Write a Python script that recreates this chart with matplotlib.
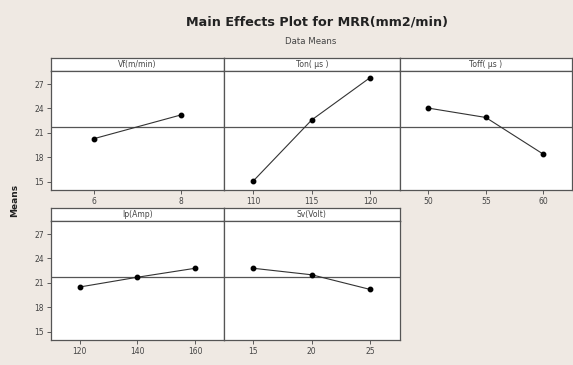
import matplotlib.pyplot as plt

# main effect means for MRR (mm2/min) at each factor level
vf_levels = [6, 8]
vf_means = [20.3, 23.2]

ton_levels = [110, 115, 120]
ton_means = [15.1, 22.6, 27.8]

toff_levels = [50, 55, 60]
toff_means = [24.05, 22.9, 18.4]

ip_levels = [120, 140, 160]
ip_means = [20.5, 21.7, 22.8]

sv_levels = [15, 20, 25]
sv_means = [22.8, 22.0, 20.2]

grand_mean = 21.7
y_ticks = [15, 18, 21, 24, 27]

factors = [
    ("Vf(m/min)", vf_levels, vf_means),
    ("Ton( \u00b5s )", ton_levels, ton_means),
    ("Toff( \u00b5s )", toff_levels, toff_means),
    ("Ip(Amp)", ip_levels, ip_means),
    ("Sv(Volt)", sv_levels, sv_means),
]

W, H = 573, 365
BG = "#efe9e3"
EDGE = "#555555"
TXT = "#444444"

fig = plt.figure(figsize=(W / 100, H / 100), dpi=100)
fig.patch.set_facecolor(BG)


def px_axes(x0, y0, x1, y1):
    # axes placed by pixel box (top-left origin)
    return fig.add_axes([x0 / W, 1 - y1 / H, (x1 - x0) / W, (y1 - y0) / H])


# panel boxes: (left, right, strip top, strip bottom, plot bottom)
col_x = [(50.7, 224), (224, 399.5), (399.5, 572)]
rows = [(57.7, 71, 190), (207.7, 221, 340)]
boxes = [
    (col_x[0], rows[0]), (col_x[1], rows[0]), (col_x[2], rows[0]),
    (col_x[0], rows[1]), (col_x[1], rows[1]),
]

for i, ((name, levels, means), ((x0, x1), (st, sb, pb))) in enumerate(zip(factors, boxes)):
    strip = px_axes(x0, st, x1, sb)
    strip.set_xticks([])
    strip.set_yticks([])
    strip.set_facecolor("white")
    for s in strip.spines.values():
        s.set_color(EDGE)
        s.set_linewidth(0.9)
    strip.text(0.5, 0.5, name, ha="center", va="center", fontsize=5.5,
               color=TXT, transform=strip.transAxes)

    ax = px_axes(x0, sb, x1, pb)
    ax.set_facecolor("white")
    pos = list(range(len(levels)))
    ax.axhline(grand_mean, color=EDGE, lw=0.9, zorder=1)
    ax.plot(pos, means, color="#333333", lw=0.8, marker="o", ms=3.2,
            mfc="black", mec="black", zorder=3)
    ax.set_xlim(-0.5, len(levels) - 0.5)
    ax.set_ylim(14.0, 28.6)
    ax.set_xticks(pos)
    ax.set_xticklabels([str(v) for v in levels])
    ax.set_yticks(y_ticks)
    ax.tick_params(axis="both", labelsize=5.5, colors=TXT, length=3, width=0.6, pad=2)
    if i not in (0, 3):
        ax.tick_params(axis="y", left=False, labelleft=False)
    for s in ax.spines.values():
        s.set_color(EDGE)
        s.set_linewidth(0.9)

fig.text(317 / W, 1 - 22 / H, "Main Effects Plot for MRR(mm2/min)", ha="center",
         va="center", fontsize=9.2, fontweight="bold", color="#222222")
fig.text(311 / W, 1 - 41 / H, "Data Means", ha="center", va="center",
         fontsize=6.2, color=TXT)
fig.text(15 / W, 1 - 200 / H, "Means", ha="center", va="center", rotation=90,
         fontsize=6.5, fontweight="bold", color="#222222")

fig.savefig("out.png", dpi=100, facecolor=BG)
